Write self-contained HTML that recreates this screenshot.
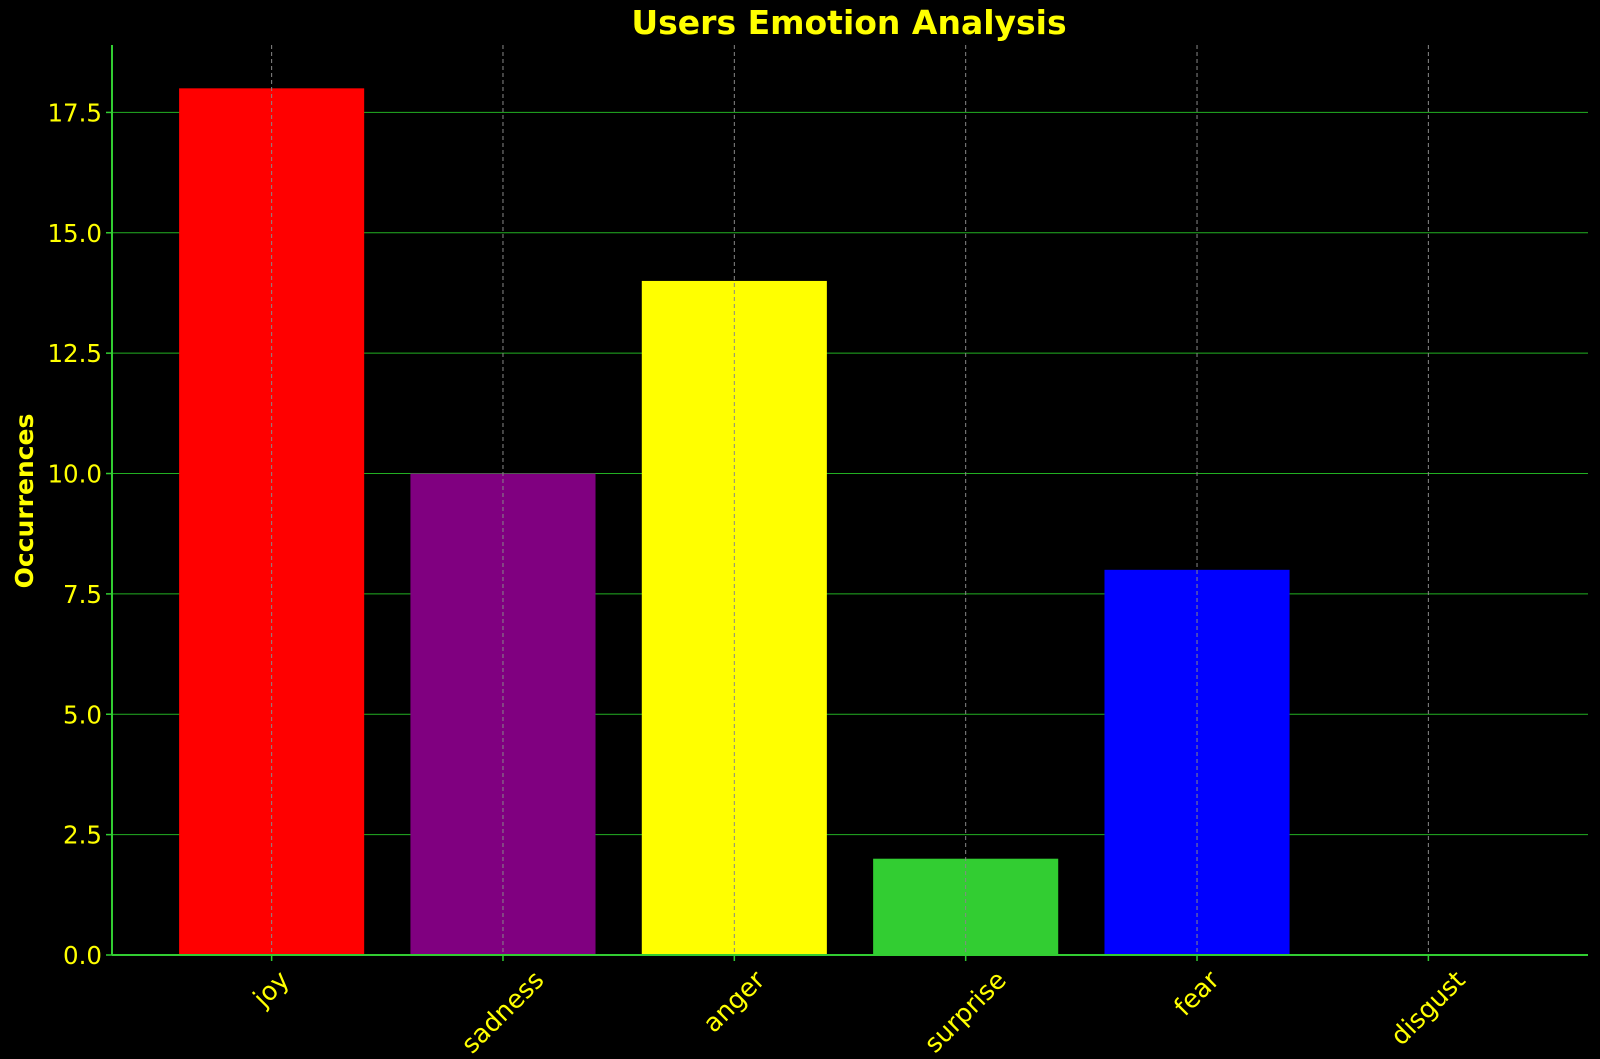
<!DOCTYPE html>
<html><head><meta charset="utf-8"><style>
html,body{margin:0;padding:0;background:#000;}
svg{display:block;}
text{font-family:"DejaVu Sans","Liberation Sans",sans-serif;}
</style></head><body>
<svg id="chart" width="1600" height="1059" xmlns="http://www.w3.org/2000/svg">
<rect width="1600" height="1059" fill="#000"/>
<g id="hgrid"></g><g id="bars"></g><g id="vgrid"></g><g id="axes"></g>
<text x="849" y="34" text-anchor="middle" font-size="33" font-weight="bold" fill="#ffff00">Users Emotion Analysis</text>
<text transform="translate(33,501) rotate(-90)" text-anchor="middle" font-size="25" font-weight="bold" fill="#ffff00">Occurrences</text>
</svg>
<script>
const categories=["joy","sadness","anger","surprise","fear","disgust"];
const values=[18,10,14,2,8,0];
const colors=["#ff0000","#800080","#ffff00","#32cd32","#0000ff","#ffa500"];
const yTicks=[0,2.5,5,7.5,10,12.5,15,17.5];
const NS="http://www.w3.org/2000/svg";
const L=112,R=1588,T=45,B=955;
const xMin=-0.69,xMax=5.69,yMax=18.9;
const xs=v=>L+(v-xMin)/(xMax-xMin)*(R-L);
const ys=v=>B-v/yMax*(B-T);
function mk(tag,attrs,parent){const e=document.createElementNS(NS,tag);for(const k in attrs)e.setAttribute(k,attrs[k]);document.getElementById(parent).appendChild(e);return e;}
yTicks.forEach(t=>{
  const g=mk("line",{x1:L,x2:R,y1:ys(t),y2:ys(t),stroke:"#22b022","stroke-width":1},"hgrid");
  
  
  const tk=mk("line",{x1:L-6,x2:L,y1:ys(t),y2:ys(t),stroke:"#32cd32","stroke-width":1.5},"axes");
  
  
  const lb=mk("text",{x:L-10,y:ys(t)+9,"text-anchor":"end","font-size":24.5,fill:"#ffff00"},"axes");
  lb.textContent=t.toFixed(1);
  
  
});
categories.forEach((c,i)=>{
  const x0=xs(i-0.4),x1=xs(i+0.4);
  const b=mk("rect",{x:x0,y:ys(values[i]),width:x1-x0,height:B-ys(values[i]),fill:colors[i]},"bars");
  
  
  const v=mk("line",{x1:xs(i),x2:xs(i),y1:T,y2:B,stroke:"#888","stroke-width":1,"stroke-dasharray":"4,3"},"vgrid");
  
  
  const tk=mk("line",{x1:xs(i),x2:xs(i),y1:B,y2:B+6,stroke:"#32cd32","stroke-width":1.5},"axes");
  
  
  const lb=mk("text",{"text-anchor":"middle","dominant-baseline":"central","font-size":25.5,fill:"#ffff00"},"axes");
  lb.textContent=c;
  
  
  const w=lb.getComputedTextLength(), h=25;
  const half=(w+h)*0.7071/2;
  lb.setAttribute("transform",`translate(${xs(i)},${B+12+half}) rotate(-45)`);
});
const ax=mk("line",{x1:L,x2:L,y1:T,y2:B,stroke:"#32cd32","stroke-width":2},"axes");


const bx=mk("line",{x1:L,x2:R,y1:B,y2:B,stroke:"#32cd32","stroke-width":2},"axes");


</script>
</body></html>
